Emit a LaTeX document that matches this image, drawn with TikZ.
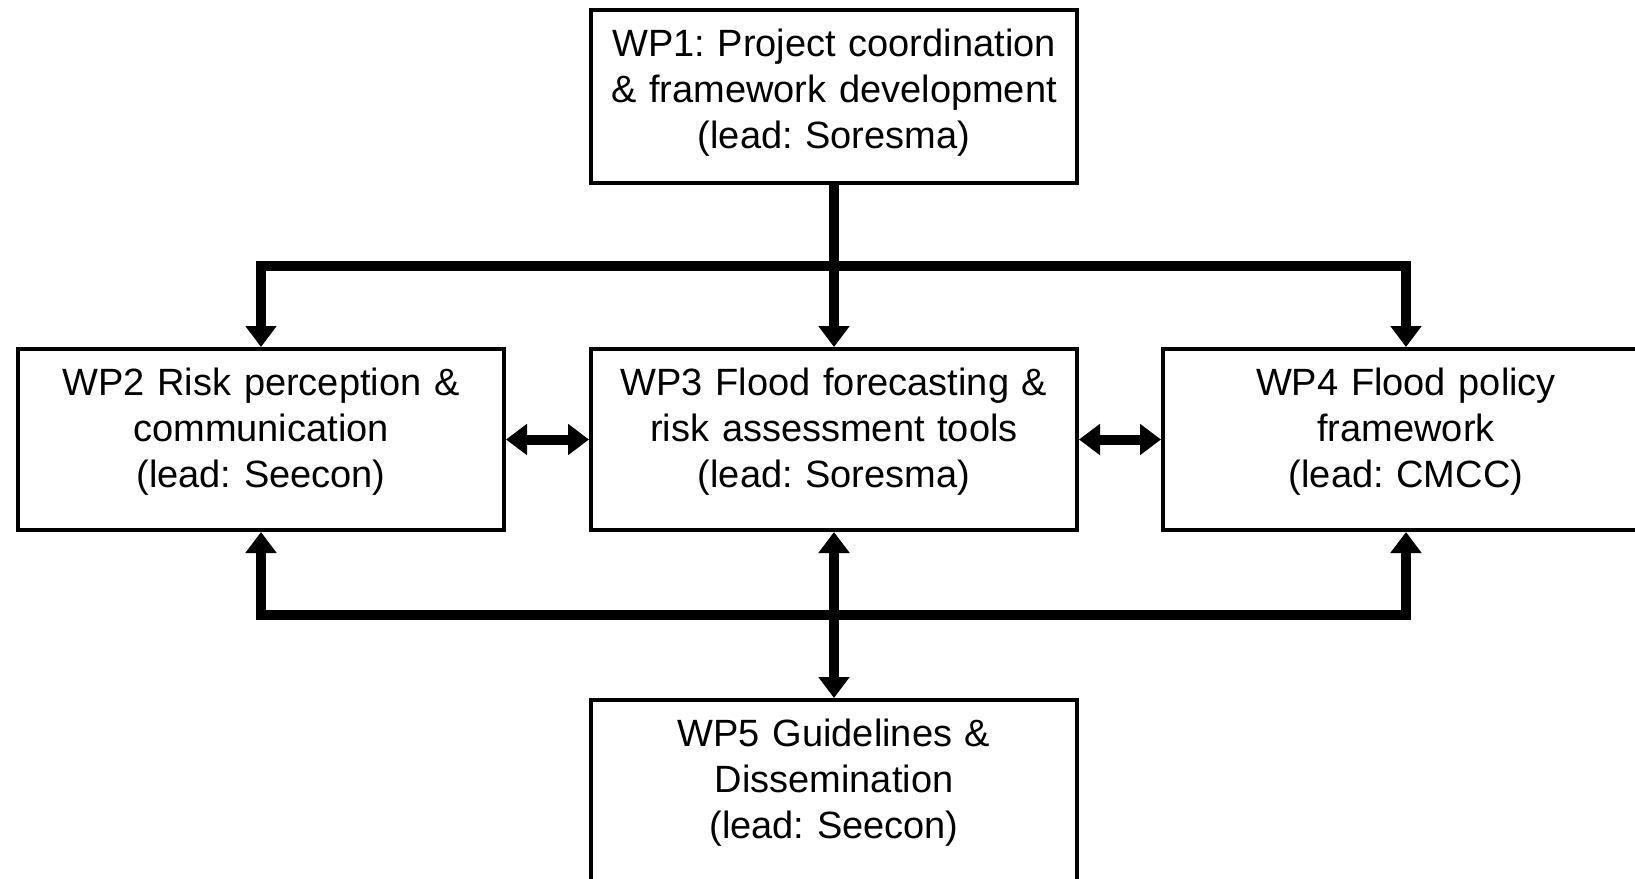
\documentclass[tikz,border=0pt]{standalone}
\usepackage{fontspec}
\setmainfont{Liberation Sans}
\usetikzlibrary{arrows.meta}
\frenchspacing

\begin{document}
\begin{tikzpicture}[x=0.5pt, y=-0.5pt,
    wp/.style={draw, line width=2pt, inner sep=0pt, text width=243pt, align=center,
        text height=23pt, text depth=67.5pt, font=\fontsize{19}{23}\selectfont},
    flow/.style={line width=5pt},
    >={Triangle[width=15pt,length=10.5pt]}]

\useasboundingbox (0,0) rectangle (1635,879);
\clip (0,0) rectangle (1635,879);

\node (wp1) [wp, text depth=63.5pt] at (834,96.5) {WP1: Project coordination\\ \& framework development\\ (lead: Soresma)};
\node (wp2) [wp] at (261,439.5) {WP2 Risk perception \&\\ communication\\ (lead: Seecon)};
\node (wp3) [wp] at (834,439.5) {WP3 Flood forecasting \&\\ risk assessment tools\\ (lead: Soresma)};
\node (wp4) [wp] at (1406,439.5) {WP4 Flood policy\\ framework\\ (lead: CMCC)};
\node (wp5) [wp] at (834,790.5) {WP5 Guidelines \&\\ Dissemination\\ (lead: Seecon)};

\coordinate (topbus) at (834,266);
\coordinate (lowbus) at (834,615);

\draw [flow,->] (wp1) -- (wp3);
\draw [flow,->] (topbus -| wp4) -- (topbus -| wp2) -- (wp2);
\draw [flow,->] (topbus -| wp2) -- (topbus -| wp4) -- (wp4);

\draw [flow,<->] (wp2) -- (wp3);
\draw [flow,<->] (wp3) -- (wp4);

\draw [flow,->] (lowbus -| wp4) -- (lowbus -| wp2) -- (wp2);
\draw [flow,->] (lowbus -| wp2) -- (lowbus -| wp4) -- (wp4);
\draw [flow,<->] (wp3) -- (wp5);

\end{tikzpicture}
\end{document}
